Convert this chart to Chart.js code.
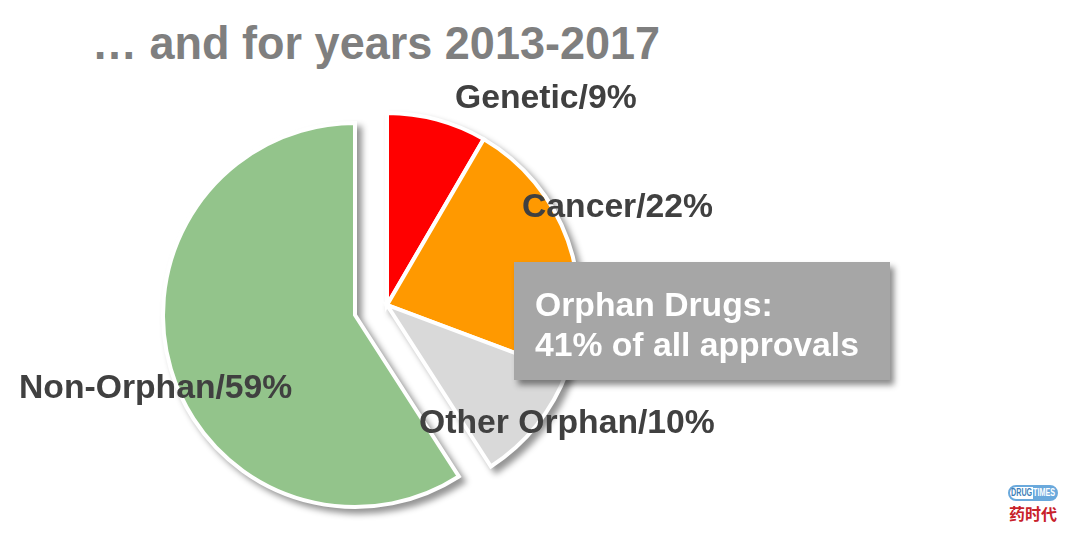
<!DOCTYPE html>
<html lang="en">
<head>
    <meta charset="UTF-8">
    <title>Approvals 2013-2017</title>
    <script src="https://cdnjs.cloudflare.com/ajax/libs/Chart.js/4.4.1/chart.umd.min.js"></script>
    <style>
        html, body { margin: 0; padding: 0; background: #fff; }
        #stage {
            position: relative;
            width: 1080px;
            height: 533px;
            overflow: hidden;
            font-family: "Liberation Sans", Arial, sans-serif;
            font-weight: bold;
        }
        #stage div, #stage span { white-space: nowrap; }
        .pie {
            position: absolute;
            width: 444px;
            height: 444px;
            filter: drop-shadow(5px 5px 3px rgba(0,0,0,0.42));
        }
        .pie canvas { width: 444px; height: 444px; }
        #pieRest { left: 133px; top: 93px; }
        #pieOrphan { left: 165px; top: 83px; }
        #title {
            position: absolute;
            left: 92px;
            top: 15px;
            font-size: 47px;
            line-height: 56px;
            color: #7f7f7f;
            transform: scaleX(0.958);
            transform-origin: left center;
        }
        .label {
            position: absolute;
            font-size: 33.7px;
            line-height: 38px;
            color: #404040;
        }
        #callout {
            position: absolute;
            left: 514px;
            top: 262px;
            width: 376px;
            height: 118px;
            background: #a6a6a6;
            box-shadow: 4px 5px 6px rgba(0,0,0,0.45);
            color: #fff;
            font-size: 33.7px;
            line-height: 40px;
            padding: 22px 0 0 21px;
            box-sizing: border-box;
        }
        #logoPill {
            position: absolute;
            left: 1008px;
            top: 485px;
            width: 50px;
            height: 16px;
            border-radius: 8px;
            border: 2px solid #6aa9dc;
            box-sizing: border-box;
            background: linear-gradient(90deg, #fff 0 50%, #6aa9dc 50% 100%);
            font-size: 10px;
            line-height: 12px;
        }
        #logoPill span { position: absolute; top: 0; transform: scaleX(0.72); transform-origin: left center; }
        #logoCn {
            position: absolute;
            left: 1009px;
            top: 503px;
            font-family: "Noto Sans CJK SC", sans-serif;
            font-size: 16px;
            line-height: 20px;
            color: #c8222a;
        }
    </style>
</head>
<body>
    <div id="stage">
        <div class="pie" id="pieRest"><canvas id="restChart"></canvas></div>
        <div class="pie" id="pieOrphan"><canvas id="orphanChart"></canvas></div>
        <div id="title">… and for years 2013-2017</div>
        <div id="labels"></div>
        <div id="callout">Orphan Drugs:<br>41% of all approvals</div>
        <div id="logoPill"><span style="left:1px;color:#3f7fb8">DRUG</span><span style="left:23px;color:#fff">TIMES</span></div>
        <div id="logoCn">药时代</div>
    </div>

    <script>
        const categories = ['Genetic', 'Cancer', 'Other Orphan', 'Non-Orphan'];
        const labelShares = [9, 22, 10, 59];
        // slice sizes, they differ a little from the printed labels
        const sliceShares = [8.4, 22.3, 10.2, 59.1];
        const sliceColors = ['#ff0000', '#ff9900', '#d9d9d9', '#93c48b'];
        const labelSpots = [[455, 77], [522, 186], [419, 402], [19, 367]];
        const orphanFlags = [true, true, true, false];

        // the orphan slices are pulled out as one group, so each group gets its own pie
        function drawPie(canvasId, showOrphan) {
            const visible = orphanFlags.map(f => f === showOrphan);
            new Chart(document.getElementById(canvasId), {
                type: 'pie',
                data: {
                    labels: categories,
                    datasets: [{
                        data: sliceShares,
                        backgroundColor: sliceColors.map((c, i) => visible[i] ? c : 'transparent'),
                        borderColor: visible.map(v => v ? '#ffffff' : 'transparent'),
                        borderWidth: 4,
                        borderJoinStyle: 'miter'
                    }]
                },
                options: {
                    responsive: false,
                    animation: false,
                    layout: { padding: 28 },
                    plugins: {
                        legend: { display: false },
                        tooltip: { enabled: false }
                    }
                }
            });
        }

        document.querySelectorAll('.pie canvas').forEach(c => { c.width = 444; c.height = 444; });
        drawPie('restChart', false);
        drawPie('orphanChart', true);

        const labelBox = document.getElementById('labels');
        categories.forEach((name, i) => {
            const el = document.createElement('div');
            el.className = 'label';
            el.textContent = name + '/' + labelShares[i] + '%';
            el.style.left = labelSpots[i][0] + 'px';
            el.style.top = labelSpots[i][1] + 'px';
            labelBox.appendChild(el);
        });
    </script>
</body>
</html>
